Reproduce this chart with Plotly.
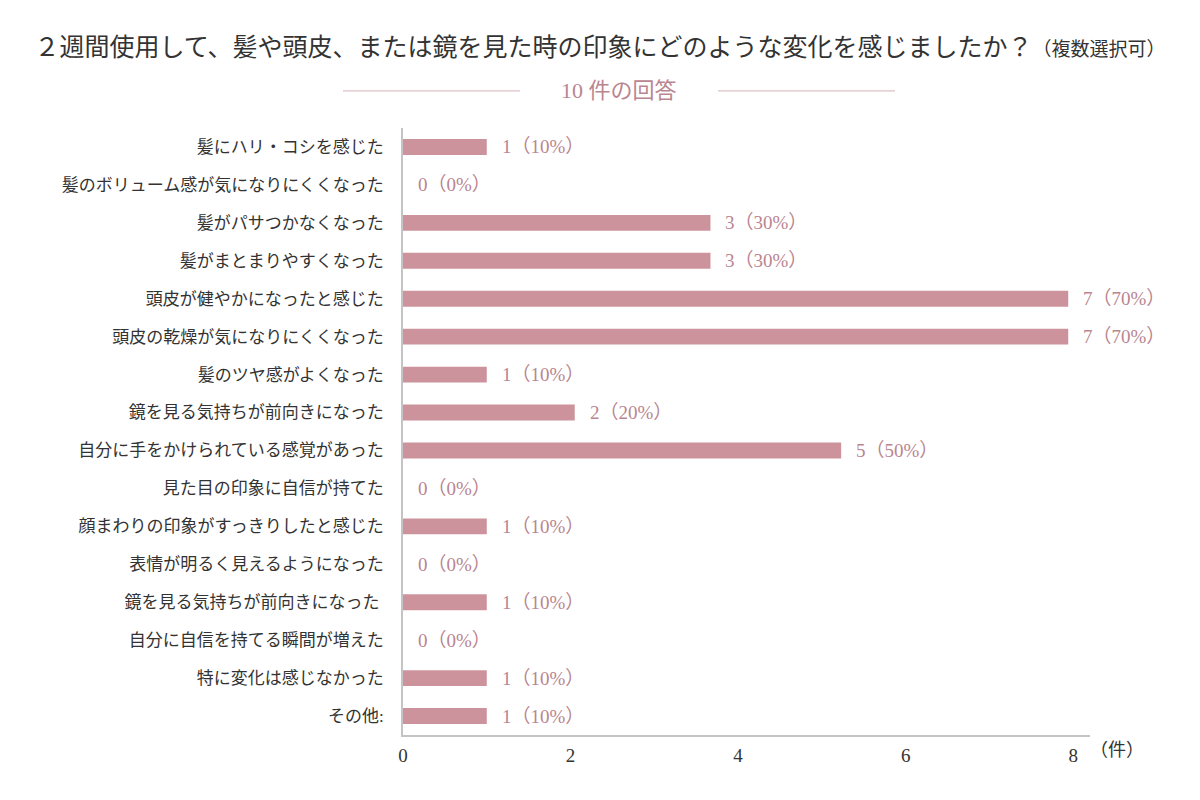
import plotly.graph_objects as go

categories = [
    "髪にハリ・コシを感じた",
    "髪のボリューム感が気になりにくくなった",
    "髪がパサつかなくなった",
    "髪がまとまりやすくなった",
    "頭皮が健やかになったと感じた",
    "頭皮の乾燥が気になりにくくなった",
    "髪のツヤ感がよくなった",
    "鏡を見る気持ちが前向きになった",
    "自分に手をかけられている感覚があった",
    "見た目の印象に自信が持てた",
    "顔まわりの印象がすっきりしたと感じた",
    "表情が明るく見えるようになった",
    "鏡を見る気持ちが前向きになった ",
    "自分に自信を持てる瞬間が増えた",
    "特に変化は感じなかった",
    "その他:",
]
# counts as printed in the labels
counts = [1, 0, 3, 3, 7, 7, 1, 2, 5, 0, 1, 0, 1, 0, 1, 1]
# bar lengths as drawn against the axis in the picture
bar_lengths = [1, 0, 3.67, 3.67, 7.94, 7.94, 1, 2.05, 5.23, 0, 1, 0, 1, 0, 1, 1]
total = 10
x_ticks = [0, 2, 4, 6, 8]

FONT = "Liberation Serif, Noto Sans CJK JP"
BAR = "#cd939c"
LABEL = "#b98590"

labels = [f"{c}（{round(c * 100 / total)}%）" for c in counts]

fig = go.Figure()
fig.add_trace(go.Bar(
    x=bar_lengths, y=categories, orientation="h",
    marker=dict(color=BAR, line=dict(width=0)),
    hoverinfo="skip",
))

annotations = []
for cat, b, lab in zip(categories, bar_lengths, labels):
    annotations.append(dict(
        x=b, y=cat, xref="x", yref="y", text=lab, showarrow=False,
        xanchor="left", xshift=13, font=dict(family=FONT, size=19, color=LABEL),
    ))
annotations.append(dict(
    x=1, y=0, xref="paper", yref="paper", text="（件）", showarrow=False,
    xanchor="left", yanchor="top", xshift=-2, yshift=-3,
    font=dict(family=FONT, size=18, color="#333333"),
))
annotations.append(dict(
    x=(619 - 403) / 687, y=1.061, xref="paper", yref="paper",
    text="10 件の回答", showarrow=False, xanchor="center", yanchor="middle",
    font=dict(family=FONT, size=22, color=LABEL),
))

shapes = []
for x0, x1 in [(343, 520), (718, 895)]:
    shapes.append(dict(
        type="line", xref="paper", yref="paper",
        x0=(x0 - 403) / 687, x1=(x1 - 403) / 687, y0=1.061, y1=1.061,
        line=dict(color="#dcc0c6", width=1.2),
    ))

fig.update_layout(
    width=1200, height=800,
    margin=dict(l=403, r=110, t=128, b=65),
    paper_bgcolor="white", plot_bgcolor="white",
    bargap=0.58,
    showlegend=False,
    title=dict(
        text="２週間使用して、髪や頭皮、または鏡を見た時の印象にどのような変化を感じましたか？<span style='font-size:19px'>（複数選択可）</span>",
        x=0.5, xanchor="center", y=1 - 47 / 800, yanchor="middle",
        font=dict(family=FONT, size=25, color="#333333"),
    ),
    xaxis=dict(
        range=[0, 8.2], tickvals=x_ticks, ticktext=[str(t) for t in x_ticks],
        showgrid=False, zeroline=False, showline=True, linecolor="#c4c4c4", linewidth=2,
        ticks="", tickfont=dict(family=FONT, size=19, color="#333333"), ticklabelstandoff=2,
    ),
    yaxis=dict(
        autorange="reversed", showgrid=False, zeroline=False,
        showline=True, linecolor="#c4c4c4", linewidth=1.5,
        ticks="", ticklabelstandoff=14,
        tickfont=dict(family=FONT, size=17, color="#333333"),
    ),
    annotations=annotations, shapes=shapes,
)

fig.write_html("out.html")
